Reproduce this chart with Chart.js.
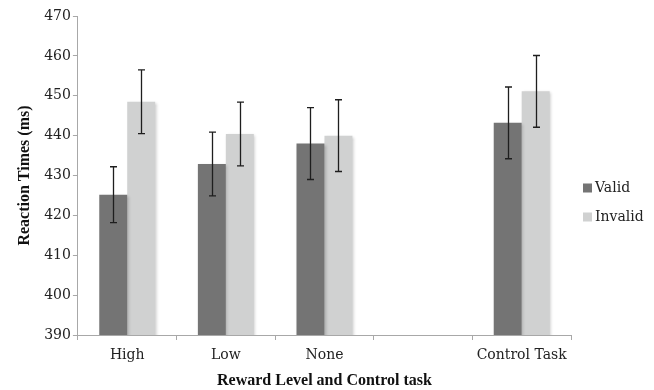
<!DOCTYPE html>
<html>
<head>
<meta charset="utf-8">
<script src="https://cdn.jsdelivr.net/npm/chart.js@4"></script>
<style>
html,body{margin:0;padding:0;background:#fff;}
#wrap{width:654px;height:390px;position:relative;}
</style>
</head>
<body>
<div id="wrap"><canvas id="c" width="654" height="390"></canvas></div>
<script>
const categories = ['High', 'Low', 'None', '', 'Control Task'];
const validMeans = [425.2, 432.9, 438.0, null, 443.2];
const validErrors = [7.0, 8.0, 9.0, null, 9.0];
const invalidMeans = [448.5, 440.4, 440.0, null, 451.1];
const invalidErrors = [8.0, 8.0, 9.0, null, 9.0];
const seriesNames = ['Valid', 'Invalid'];
const yMin = 390, yMax = 470, yStep = 10;

const errorBars = {
  id: 'errorBars',
  afterDatasetsDraw(chart) {
    const ctx = chart.ctx;
    const y = chart.scales.y;
    const errs = [validErrors, invalidErrors];
    ctx.save();
    ctx.shadowColor = 'transparent';
    ctx.strokeStyle = '#1e1e1e';
    ctx.lineWidth = 1.3;
    chart.data.datasets.forEach((ds, di) => {
      const meta = chart.getDatasetMeta(di);
      meta.data.forEach((bar, i) => {
        const v = ds.data[i];
        const e = errs[di][i];
        if (v == null || e == null) return;
        const x = Math.round(bar.x) + 0.5;
        const top = y.getPixelForValue(v + e);
        const bot = y.getPixelForValue(v - e);
        ctx.beginPath();
        ctx.moveTo(x, top); ctx.lineTo(x, bot);
        ctx.moveTo(x - 3.5, top); ctx.lineTo(x + 3.5, top);
        ctx.moveTo(x - 3.5, bot); ctx.lineTo(x + 3.5, bot);
        ctx.stroke();
      });
    });
    ctx.restore();
  }
};

const barShadow = {
  id: 'barShadow',
  beforeDatasetsDraw(chart) {
    const ctx = chart.ctx;
    ctx.save();
    ctx.shadowColor = 'rgba(0,0,0,0.22)';
    ctx.shadowBlur = 3;
    ctx.shadowOffsetX = 1.5;
    ctx.shadowOffsetY = 1;
  },
  afterDatasetsDraw(chart) {
    chart.ctx.restore();
  }
};

const sideLegend = {
  id: 'sideLegend',
  afterDraw(chart) {
    const ctx = chart.ctx;
    const colors = chart.data.datasets.map(d => d.backgroundColor);
    ctx.save();
    ctx.font = '14px "DejaVu Serif"';
    ctx.textBaseline = 'middle';
    const x0 = 583, ys = [188, 217];
    seriesNames.forEach((n, i) => {
      ctx.fillStyle = colors[i];
      ctx.fillRect(x0, ys[i] - 4.5, 9, 9);
      ctx.fillStyle = '#222';
      ctx.fillText(n, x0 + 12, ys[i]);
    });
    ctx.restore();
  }
};

new Chart(document.getElementById('c'), {
  type: 'bar',
  data: {
    labels: categories,
    datasets: [
      { label: seriesNames[0], data: validMeans, backgroundColor: '#747474', borderWidth: 0 },
      { label: seriesNames[1], data: invalidMeans, backgroundColor: '#d0d1d1', borderWidth: 0 }
    ]
  },
  options: {
    responsive: false,
    animation: false,
    devicePixelRatio: 1,
    layout: { padding: { left: 15, right: 83, top: 16, bottom: 0 } },
    plugins: { legend: { display: false }, tooltip: { enabled: false } },
    datasets: { bar: { barPercentage: 1.0, categoryPercentage: 0.567 } },
    scales: {
      x: {
        grid: { display: true, drawOnChartArea: false, drawTicks: true, tickLength: 5, color: '#a8a8a8', offset: true },
        border: { display: true, color: '#a8a8a8', width: 1 },
        ticks: { color: '#222', font: { family: '"DejaVu Serif"', size: 14 }, padding: 7, maxRotation: 0, autoSkip: false },
        title: { display: true, text: 'Reward Level and Control task', color: '#111', font: { family: '"Liberation Serif"', size: 16, weight: 'bold' }, padding: { top: 0, bottom: 0 } }
      },
      y: {
        min: yMin, max: yMax,
        grid: { display: true, drawOnChartArea: false, drawTicks: true, tickLength: 5, color: '#a8a8a8' },
        border: { display: true, color: '#a8a8a8', width: 1 },
        ticks: { stepSize: yStep, color: '#222', font: { family: '"DejaVu Serif"', size: 14 }, padding: 2 },
        title: { display: true, text: 'Reaction Times (ms)', color: '#111', font: { family: '"Liberation Serif"', size: 16, weight: 'bold' }, padding: { top: 0, bottom: 8 } }
      }
    }
  },
  plugins: [barShadow, errorBars, sideLegend]
});
</script>
</body>
</html>
